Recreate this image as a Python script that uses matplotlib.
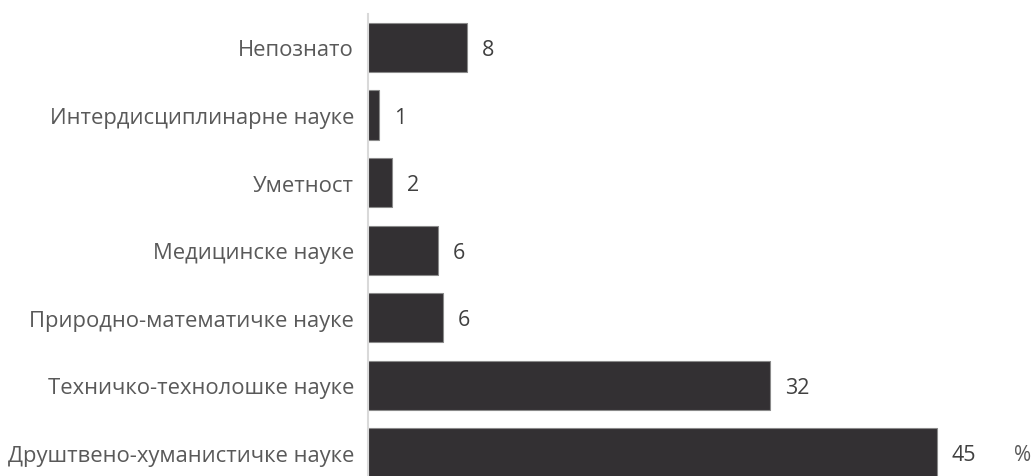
import matplotlib
matplotlib.use("Agg")
import matplotlib.pyplot as plt

categories = ["Непознато", "Интердисциплинарне науке", "Уметност", "Медицинске науке",
              "Природно-математичке науке", "Техничко-технолошке науке",
              "Друштвено-хуманистичке науке"]
values = [7.8, 0.9, 1.9, 5.5, 5.9, 31.8, 45.0]
labels = ["8", "1", "2", "6", "6", "32", "45"]

plt.rcParams['font.family'] = ['Open Sans', 'DejaVu Sans']

W, H = 1035, 477
fig = plt.figure(figsize=(W / 100, H / 100), dpi=100)
ax = fig.add_axes([368 / W, 0, (W - 368) / W, 1])

pos = list(range(len(categories)))
ax.barh(pos, values, height=0.726, color='#333033', edgecolor='#8a8a8a', linewidth=0.8)

ax.set_xlim(0, (W - 368) / 12.64)
ax.set_ylim(6.348, -0.7185)

for p, v, l in zip(pos, values, labels):
    ax.text(v + 1.2, p + 0.03, l, va='center', ha='left', fontsize=15.5, color='#404040')

ax.set_yticks(pos)
ax.set_yticklabels(categories, fontsize=15.8, color='#595959')
ax.tick_params(axis='y', length=0, pad=10)
ax.set_xticks([])
for s in ['top', 'right', 'bottom']:
    ax.spines[s].set_visible(False)
ax.spines['left'].set_color('#d9d9d9')
ax.spines['left'].set_linewidth(1.5)
ax.spines['left'].set_bounds(-0.5, 6.348)

fig.text(1023 / W, 1 - 456 / H, "%", ha='center', va='center', fontsize=15, color='#595959')

fig.savefig("out.png", dpi=100)
